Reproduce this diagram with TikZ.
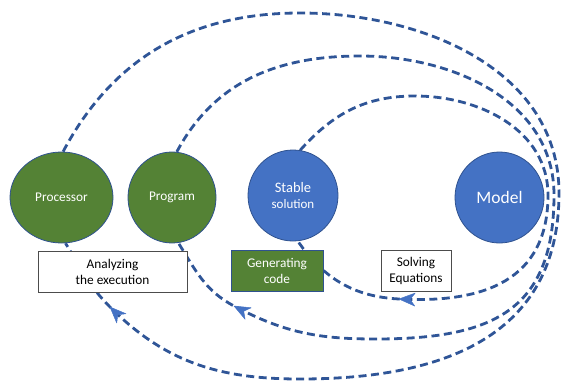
\documentclass[tikz,border=0pt]{standalone}
\usepackage{fontspec}
\setmainfont{Carlito}
\usetikzlibrary{shapes.geometric}
\definecolor{linebl}{HTML}{2F5597}
\definecolor{headbl}{HTML}{4472C4}
\definecolor{fillbl}{HTML}{4472C4}
\definecolor{fillgr}{HTML}{548235}
\definecolor{outl}{HTML}{2F528F}
\pgfdeclarelayer{bg}
\pgfsetlayers{bg,main}
\begin{document}
\begin{tikzpicture}[x=1pt,y=-1pt,
  circ/.style={ellipse, draw=outl, line width=0.8pt, inner sep=0pt, text=white,
    font=\fontsize{13.3}{16}\selectfont, align=center},
  gcirc/.style={circ, fill=fillgr},
  bcirc/.style={circ, fill=fillbl},
  wbox/.style={rectangle, draw=black!70, fill=white, line width=0.8pt, minimum height=41pt,
    inner sep=0pt, align=center, font=\fontsize{13.3}{16}\selectfont},
  gbox/.style={wbox, fill=fillgr, draw=outl, text=white},
  flow/.style={draw=linebl, line width=2.8pt, dash pattern=on 8pt off 4.5pt},
  headtip/.style={fill=headbl, draw=headbl, line width=0.5pt, line join=round},
]
\useasboundingbox (0,0) rectangle (561,380);

\node[gcirc, minimum width=103pt, minimum height=91pt] (proc) at (61.5,197.5) {Processor};
\node[gcirc, minimum width=88pt, minimum height=91pt] (prog) at (172,197.5) {Program};
\node[bcirc, minimum width=90pt, minimum height=91pt] (stab) at (293,195.5)
  {{\fontsize{14.5}{16}\selectfont Stable}\\{\fontsize{13}{16}\selectfont solution}};
\node[bcirc, minimum width=89pt, minimum height=91pt, font=\fontsize{17.5}{20}\selectfont] (model) at (499.5,197.5) {Model};

\node[wbox, minimum width=149pt] (anal) at (112.5,271.5) {Analyzing\\the execution};
\node[gbox, minimum width=92pt] (gen) at (277,270.5) {Generating\\code};
\node[wbox, minimum width=70pt] (solv) at (416,270.5) {Solving\\Equations};

\coordinate (t1) at (300,13);
\coordinate (r1) at (559,193);
\coordinate (b1) at (300,379);
\coordinate (a1) at (110,307);

\coordinate (t2) at (360,56);
\coordinate (r2) at (554,195);
\coordinate (b2) at (375,339);
\coordinate (a2) at (234,306);

\coordinate (t3) at (415,96);
\coordinate (r3) at (548,195);
\coordinate (a3) at (399,299);

\begin{pgfonlayer}{bg}
\draw[flow] (proc.88) to[out=62,in=180] (t1) to[out=0,in=90] (r1)
  to[out=-90,in=0,looseness=1.15] (b1) to[out=180,in=-45] (a1)
  to[out=135,in=-58] (proc.-85);
\draw[flow] (prog.84) to[out=62,in=180] (t2) to[out=0,in=90] (r2)
  to[out=-90,in=0,looseness=1.3] (b2) to[out=180,in=-28] (a2)
  to[out=152,in=-58] (prog.-82);
\draw[flow] (stab.81) to[out=48,in=180] (t3) to[out=0,in=90] (r3)
  to[out=-90,in=-3,looseness=1.2] (a3)
  to[out=177,in=-55] (stab.-84);
\end{pgfonlayer}
\filldraw[headtip, shift={(a1)}, rotate=135] (0,0) -- (-16,6.5) -- (-11,0) -- (-16,-6.5) -- cycle;
\filldraw[headtip, shift={(a2)}, rotate=152] (0,0) -- (-16,6.5) -- (-11,0) -- (-16,-6.5) -- cycle;
\filldraw[headtip, shift={(a3)}, rotate=178] (0,0) -- (-16,6.5) -- (-11,0) -- (-16,-6.5) -- cycle;
\end{tikzpicture}
\end{document}
